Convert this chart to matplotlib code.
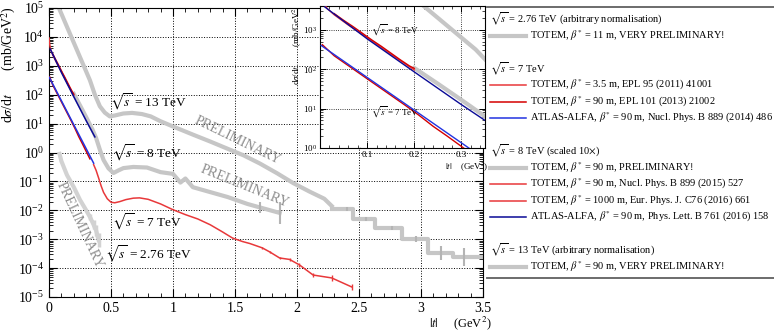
import numpy as np
import matplotlib.pyplot as plt
from matplotlib.lines import Line2D
from matplotlib.ticker import MultipleLocator, LogLocator, NullFormatter

plt.rcParams['font.family'] = 'Liberation Serif'
plt.rcParams['mathtext.fontset'] = 'stix'

# all dsigma/dt values are given as log10(mb/GeV^2)

# sqrt(s) = 13 TeV, TOTEM beta* = 90 m (arbitrary normalisation)
t13 = [0.05, 0.08, 0.13, 0.18, 0.23, 0.28, 0.33, 0.37, 0.41, 0.45, 0.49, 0.53, 0.60, 0.67,
       0.75, 0.82, 0.90, 1.00, 1.16, 1.30, 1.44, 1.57, 1.70, 1.84, 1.97, 2.10, 2.22, 2.28]
lg13 = [5.3, 5.0, 4.5, 4.0, 3.5, 3.0, 2.5, 2.0, 1.6, 1.38, 1.25, 1.28, 1.35, 1.37,
        1.33, 1.25, 1.08, 0.90, 0.62, 0.38, 0.13, -0.10, -0.38, -0.72, -1.06, -1.35, -1.60, -1.85]
edges13 = [2.28, 2.45, 2.63, 2.85, 3.06, 3.26, 3.50]
lg13_bins = [-1.95, -2.30, -2.61, -2.99, -3.48, -3.62]
tc13 = [2.40, 2.56, 2.77, 2.96, 3.16, 3.35]
err13 = [0.07, 0.07, 0.08, 0.10, 0.24, 0.30]

# sqrt(s) = 8 TeV (scaled 10x)
t8_alfa = [0.01, 0.10, 0.20, 0.30, 0.37]
lg8_alfa = [3.58, 2.77, 1.93, 1.10, 0.54]
t8_t1000 = [0.001, 0.004, 0.008, 0.015, 0.03, 0.06, 0.10, 0.15, 0.20]
lg8_t1000 = [3.96, 3.80, 3.68, 3.54, 3.38, 3.12, 2.80, 2.38, 1.98]
t8_t90 = [0.03, 0.05, 0.07, 0.09, 0.11, 0.13, 0.15, 0.17, 0.19, 0.20]
lg8_t90 = [3.41, 3.24, 3.08, 2.91, 2.74, 2.58, 2.41, 2.24, 2.08, 2.02]
t8_prel = [0.20, 0.25, 0.30, 0.35, 0.38, 0.41, 0.44, 0.48, 0.52, 0.56, 0.60, 0.68, 0.79,
           0.90, 1.00, 1.06, 1.10, 1.16, 1.30, 1.44, 1.60, 1.70, 1.86]
lg8_prel = [2.03, 1.63, 1.22, 0.80, 0.50, 0.10, -0.26, -0.55, -0.71, -0.62, -0.54, -0.50, -0.52,
            -0.68, -0.74, -1.04, -0.90, -1.20, -1.37, -1.54, -1.78, -1.90, -2.09]
tc8_prel = [1.70, 1.86]
err8_prel = [0.19, 0.38]

# sqrt(s) = 7 TeV
t7_alfa = [0.0025, 0.10, 0.20, 0.30, 0.36]
lg7_alfa = [2.60, 1.79, 0.96, 0.13, -0.37]
t7_t90 = [0.005, 0.03, 0.06, 0.09, 0.12, 0.15, 0.18, 0.21, 0.24, 0.27, 0.30, 0.33]
lg7_t90 = [2.62, 2.34, 2.09, 1.84, 1.59, 1.34, 1.09, 0.83, 0.55, 0.30, 0.04, -0.22]
t7_t35 = [0.36, 0.38, 0.40, 0.42, 0.44, 0.47, 0.50, 0.53, 0.57, 0.62, 0.68, 0.73, 0.80, 0.90,
          1.00, 1.10, 1.20, 1.30, 1.40, 1.48, 1.56, 1.62, 1.72, 1.78, 1.86, 1.94, 2.02, 2.13,
          2.28, 2.44]
lg7_t35 = [-0.42, -0.62, -0.88, -1.15, -1.38, -1.60, -1.72, -1.74, -1.70, -1.63, -1.58, -1.57,
           -1.62, -1.78, -1.98, -2.15, -2.30, -2.50, -2.75, -2.96, -3.08, -3.15, -3.30, -3.44,
           -3.65, -3.70, -3.89, -4.24, -4.34, -4.65]
tc7 = [1.72, 1.78, 1.86, 1.94, 2.02, 2.13, 2.28, 2.44]
lc7 = [-3.30, -3.44, -3.65, -3.70, -3.89, -4.24, -4.34, -4.65]
err7 = [0.04, 0.04, 0.05, 0.05, 0.06, 0.07, 0.09, 0.11]

# sqrt(s) = 2.76 TeV, TOTEM beta* = 11 m (arbitrary normalisation)
t276 = [0.085, 0.10, 0.145, 0.20, 0.25, 0.30, 0.33, 0.36, 0.38, 0.40]
lg276 = [-0.05, -0.30, -0.78, -1.20, -1.64, -2.00, -2.23, -2.50, -2.70, -3.03]
tc276 = [0.33, 0.36, 0.38, 0.40]
lc276 = [-2.23, -2.50, -2.70, -3.03]
err276 = [0.10, 0.15, 0.20, 0.25]

GREY = '#c6c6c6'
GREY2 = '#d2d2d2'
RED1 = '#e8383a'
RED2 = '#d40000'
BLUE1 = '#2233e0'
BLUE2 = '#0a0a96'


def p(v):
    return 10.0 ** np.asarray(v)


def errs(lc, e):
    lc = np.asarray(lc)
    e = np.asarray(e)
    return [p(lc) - p(lc - e), p(lc + e) - p(lc)]


fig = plt.figure(figsize=(7.74, 3.3), dpi=100)
ax = fig.add_axes([49 / 774, 33 / 330, 434 / 774, 289 / 330])


def draw(a, gw, cw):
    a.plot(t13, p(lg13), color=GREY, lw=gw, zorder=2)
    a.step(edges13, p(lg13_bins + lg13_bins[-1:]), where='post', color=GREY, lw=gw, zorder=2)
    a.errorbar(tc13, p(lg13_bins), yerr=errs(lg13_bins, err13), fmt='none', ecolor='#b4b4b4',
               elinewidth=1.5, zorder=2)
    a.plot(t276, p(lg276), color=GREY2, lw=gw, zorder=2)
    a.errorbar(tc276, p(lc276), yerr=errs(lc276, err276), fmt='none', ecolor=GREY2,
               elinewidth=2.5, zorder=2)
    a.plot(t8_prel, p(lg8_prel), color=GREY, lw=gw, zorder=2)
    a.errorbar(tc8_prel, p(lg8_prel[-2:]), yerr=errs(lg8_prel[-2:], err8_prel), fmt='none',
               ecolor='#b4b4b4', elinewidth=1.5, zorder=2)
    a.plot(t8_t1000, p(lg8_t1000), color=RED1, lw=cw, zorder=3)
    a.plot(t8_t90, p(lg8_t90), color=RED2, lw=cw, zorder=3)
    a.plot(t8_alfa, p(lg8_alfa), color=BLUE2, lw=cw, zorder=4)
    a.plot(t7_t90, p(lg7_t90), color=RED2, lw=cw, zorder=3)
    a.plot(t7_t35, p(lg7_t35), color=RED1, lw=cw, zorder=3)
    a.errorbar(tc7, p(lc7), yerr=errs(lc7, err7), fmt='none', ecolor=RED1, elinewidth=1, zorder=3)
    a.plot(t7_alfa, p(lg7_alfa), color=BLUE1, lw=cw, zorder=4)


draw(ax, 3.0, 1.1)

ax.set_yscale('log')
ax.set_xlim(0, 3.5)
ax.set_ylim(1e-5, 1e5)
ax.set_xticks([0, 0.5, 1, 1.5, 2, 2.5, 3, 3.5])
ax.set_xticklabels(['0', '0.5', '1', '1.5', '2', '2.5', '3', '3.5'])
ax.xaxis.set_minor_locator(MultipleLocator(0.1))
ax.yaxis.set_major_locator(LogLocator(base=10, numticks=20))
ax.yaxis.set_minor_locator(LogLocator(base=10, subs=np.arange(2, 10), numticks=200))
ax.yaxis.set_minor_formatter(NullFormatter())
ax.tick_params(which='both', direction='in', top=True, right=True, labelsize=10)
ax.tick_params(which='major', length=6, width=0.8)
ax.tick_params(which='minor', length=3, width=0.6)
ax.grid(True, which='major', ls=':', color='k', lw=0.7)
ax.set_axisbelow(True)

ax.set_ylabel(r'd$\sigma$/d$t$' + ' ' * 7 + r'(mb/GeV$^2$)', loc='top', fontsize=10)
ax.yaxis.set_label_coords(-0.072, 1.005)
ax.set_xlabel(r'$|t|$' + ' ' * 5 + r'(GeV$^2$)', loc='right', fontsize=9)
ax.xaxis.set_label_coords(1.02, -0.06)

ax.text(0.49, p(1.75), r'$\sqrt{s}$ = 13 TeV', fontsize=9.5, va='center')
ax.text(0.51, p(-0.02), r'$\sqrt{s}$ = 8 TeV', fontsize=9.5, va='center')
ax.text(0.51, p(-2.4), r'$\sqrt{s}$ = 7 TeV', fontsize=9.5, va='center')
ax.text(0.45, p(-3.5), r'$\sqrt{s}$ = 2.76 TeV', fontsize=9.5, va='center')
ax.text(1.52, p(0.43), 'PRELIMINARY', fontsize=10, color='#8c8c8c', rotation=-26,
        ha='center', va='center', rotation_mode='anchor')
ax.text(1.58, p(-1.16), 'PRELIMINARY', fontsize=10, color='#8c8c8c', rotation=-22,
        ha='center', va='center', rotation_mode='anchor')
ax.text(0.25, p(-2.5), 'PRELIMINARY', fontsize=10, color='#8c8c8c', rotation=-65,
        ha='center', va='center', rotation_mode='anchor')

# inset
axi = fig.add_axes([320 / 774, 182 / 330, 165 / 774, 142 / 330])
axi.set_facecolor('white')
draw(axi, 3.0, 1.0)
axi.set_yscale('log')
axi.set_xlim(0, 0.35)
axi.set_ylim(1, 4000)
axi.set_xticks([0.1, 0.2, 0.3])
axi.set_xticklabels(['0.1', '0.2', '0.3'])
axi.xaxis.set_minor_locator(MultipleLocator(0.02))
axi.yaxis.set_major_locator(LogLocator(base=10, numticks=10))
axi.yaxis.set_minor_locator(LogLocator(base=10, subs=np.arange(2, 10), numticks=100))
axi.yaxis.set_minor_formatter(NullFormatter())
axi.tick_params(which='both', direction='in', top=True, right=True, labelsize=6.5, pad=2)
axi.tick_params(which='major', length=4, width=0.7)
axi.tick_params(which='minor', length=2, width=0.5)
axi.grid(True, which='major', ls=':', color='k', lw=0.6)
axi.set_axisbelow(True)
axi.set_ylabel(r'd$\sigma$/d$t$' + ' ' * 9 + r'(mb/GeV$^2$', loc='top', fontsize=6.5)
axi.yaxis.set_label_coords(-0.1, 0.99)
axi.set_xlabel(r'$|t|$' + ' ' * 4 + r'(GeV$^2$)', loc='right', fontsize=6.5)
axi.xaxis.set_label_coords(1.02, -0.09)
axi.text(0.108, p(2.99), r'$\sqrt{s}$ = 8 TeV', fontsize=6.5, va='center')
axi.text(0.108, p(0.91), r'$\sqrt{s}$ = 7 TeV', fontsize=6.5, va='center')

# legend, drawn by hand in figure coordinates
legend_rows = [
    (r'$\sqrt{s}$ = 2.76 TeV (arbitrary normalisation)', None, 0),
    (r'TOTEM, $\beta^{*}$ = 11 m, VERY PRELIMINARY!', GREY, 3.0),
    None,
    (r'$\sqrt{s}$ = 7 TeV', None, 0),
    (r'TOTEM, $\beta^{*}$ = 3.5 m, EPL 95 (2011) 41001', RED1, 1.1),
    (r'TOTEM, $\beta^{*}$ = 90 m, EPL 101 (2013) 21002', RED2, 1.1),
    (r'ATLAS-ALFA, $\beta^{*}$ = 90 m, Nucl. Phys. B 889 (2014) 486', BLUE1, 1.1),
    None,
    (r'$\sqrt{s}$ = 8 TeV (scaled 10$\times$)', None, 0),
    (r'TOTEM, $\beta^{*}$ = 90 m, PRELIMINARY!', GREY, 3.0),
    (r'TOTEM, $\beta^{*}$ = 90 m, Nucl. Phys. B 899 (2015) 527', RED1, 1.1),
    (r'TOTEM, $\beta^{*}$ = 1000 m, Eur. Phys. J. C76 (2016) 661', RED1, 1.1),
    (r'ATLAS-ALFA, $\beta^{*}$ = 90 m, Phys. Lett. B 761 (2016) 158', BLUE2, 1.1),
    None,
    (r'$\sqrt{s}$ = 13 TeV (arbitrary normalisation)', None, 0),
    (r'TOTEM, $\beta^{*}$ = 90 m, VERY PRELIMINARY!', GREY, 3.0),
]

W, H = 774.0, 330.0
fig.add_artist(Line2D([487 / W, 1], [1 - 7 / H] * 2, color='#606060', lw=1.3))
fig.add_artist(Line2D([487 / W, 1], [1 - 278 / H] * 2, color='#606060', lw=1.3))
y = 19.0
for row in legend_rows:
    if row is not None:
        label, col, lw = row
        if col is None:
            fig.text(490 / W, 1 - y / H, label, fontsize=7.5, va='center', ha='left')
        else:
            fig.add_artist(Line2D([490 / W, 526 / W], [1 - y / H] * 2, color=col, lw=lw))
            fig.text(530 / W, 1 - y / H, label, fontsize=7.5, va='center', ha='left')
    y += 16.5

fig.savefig('out.png', dpi=100)
